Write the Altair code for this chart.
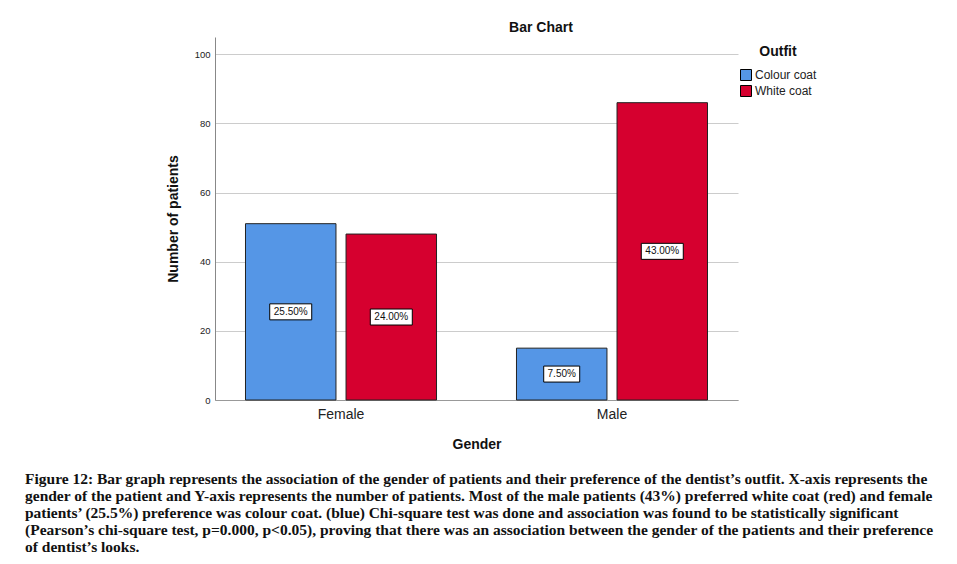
import altair as alt
import pandas as pd

genders = ["Female", "Female", "Male", "Male"]
outfits = ["Colour coat", "White coat", "Colour coat", "White coat"]
counts = [51, 48, 15, 86]
pct_labels = ["25.50%", "24.00%", "7.50%", "43.00%"]

outfit_domain = ["Colour coat", "White coat"]
outfit_colors = ["#5596E6", "#D6002F"]
y_ticks = [0, 20, 40, 60, 80, 100]

caption_lines = [
    "Figure 12: Bar graph represents the association of the gender of patients and their preference of the dentist’s outfit. X-axis represents the",
    "gender of the patient and Y-axis represents the number of patients. Most of the male patients (43%) preferred white coat (red) and female",
    "patients’ (25.5%) preference was colour coat. (blue) Chi-square test was done and association was found to be statistically significant",
    "(Pearson’s chi-square test, p=0.000, p<0.05), proving that there was an association between the gender of the patients and their preference",
    "of dentist’s looks.",
]

df = pd.DataFrame({"Gender": genders, "Outfit": outfits, "Count": counts, "Label": pct_labels})
df["Mid"] = df["Count"] / 2
df["BoxW"] = df["Label"].str.len() * 6 + 6
df["BoxSize"] = df["BoxW"] ** 2
df["BoxPath"] = df["BoxW"].apply(lambda w: f"M-1,{-16 / w:.4f}L1,{-16 / w:.4f}L1,{16 / w:.4f}L-1,{16 / w:.4f}Z")

FONT = "Liberation Sans"

x_enc = alt.X(
    "Gender:N",
    title="Gender",
    scale=alt.Scale(paddingInner=0.295, paddingOuter=0.1125),
    axis=alt.Axis(
        labelAngle=0, labelFontSize=14, labelColor="#222", labelFont=FONT,
        ticks=False, domainColor="#999999", labelPadding=7,
        titleFontSize=14, titleFontWeight="bold", titleFont=FONT, titlePadding=16, titleColor="#111",
    ),
)
xoff = alt.XOffset("Outfit:N", scale=alt.Scale(domain=outfit_domain, paddingInner=0.1, paddingOuter=0))

bars = alt.Chart(df).mark_bar(stroke="#222222", strokeWidth=1).encode(
    x=x_enc,
    xOffset=xoff,
    y=alt.Y(
        "Count:Q",
        title="Number of patients",
        scale=alt.Scale(domain=[0, 105], nice=False),
        axis=alt.Axis(
            values=y_ticks, grid=True, gridColor="#cccccc", domainColor="#888888",
            ticks=False, labelFontSize=9.5, labelFont=FONT, labelColor="#222", labelPadding=5,
            titleFontSize=14, titleFontWeight="bold", titleFont=FONT, titlePadding=14, titleColor="#111",
        ),
    ),
    color=alt.Color(
        "Outfit:N",
        scale=alt.Scale(domain=outfit_domain, range=outfit_colors),
        legend=alt.Legend(
            title="Outfit", orient="none", legendX=525, legendY=8,
            titleFontSize=14, titleFontWeight="bold", titleFont=FONT, titleColor="#111",
            titleAnchor="middle", titlePadding=10,
            labelFontSize=12, labelFont=FONT, labelColor="#222", labelOffset=3,
            symbolType="square", symbolSize=121, symbolStrokeColor="#000000",
            symbolStrokeWidth=1, symbolOpacity=1, rowPadding=0,
        ),
    ),
)

boxes = alt.Chart(df).mark_point(filled=True, fill="white", stroke="black", strokeWidth=1, opacity=1).encode(
    x=alt.X("Gender:N", scale=alt.Scale(paddingInner=0.295, paddingOuter=0.1125)),
    xOffset=xoff,
    y=alt.Y("Mid:Q"),
    shape=alt.Shape("BoxPath:N", scale=None),
    size=alt.Size("BoxSize:Q", scale=None),
)

texts = alt.Chart(df).mark_text(font=FONT, fontSize=10, color="#111", baseline="middle").encode(
    x=alt.X("Gender:N"),
    xOffset=xoff,
    y=alt.Y("Mid:Q"),
    text="Label:N",
)

title_df = pd.DataFrame({"t": ["Bar Chart"]})
title_mark = alt.Chart(title_df).mark_text(
    font=FONT, fontSize=14, fontWeight="bold", color="#111", baseline="middle", align="center"
).encode(x=alt.value(326), y=alt.value(-9), text="t:N")

chart = alt.layer(bars, boxes, texts, title_mark).properties(
    width=523,
    height=363,
    autosize=alt.AutoSizeParams(type="none"),
    padding={"left": 207, "top": 29, "right": 211, "bottom": 156},
    title=alt.TitleParams(
        text=caption_lines, orient="bottom", anchor="start", frame="group",
        dx=-190, offset=21, font="Liberation Serif", fontSize=15.5, fontWeight="bold",
        color="#111", lineHeight=17, align="left",
    ),
).configure_view(stroke=None)

chart.save("out.html", embed_options={"renderer": "svg", "actions": False})
